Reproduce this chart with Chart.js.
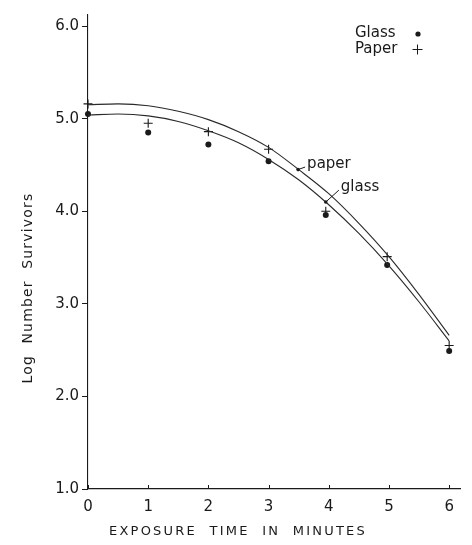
<!DOCTYPE html>
<html>
<head>
<meta charset="utf-8">
<script src="https://cdn.jsdelivr.net/npm/chart.js@4/dist/chart.umd.min.js"></script>
<style>
  html, body { margin: 0; padding: 0; background: #fff; }
  #wrap { width: 472px; height: 545px; }
</style>
</head>
<body>
<div id="wrap"><canvas id="c" width="472" height="545"></canvas></div>
<script>
// Observed survivors (log10) after UV exposure, by surface
const obsMinutes = [0, 1, 2, 3, 3.95, 4.97, 6];
const glassObs   = [5.05, 4.85, 4.72, 4.54, 3.96, 3.42, 2.49];
const paperObs   = [5.16, 4.95, 4.86, 4.67, 4.00, 3.51, 2.55];

// Fitted survival curves
const fitMinutes = [0, 0.5, 1, 1.5, 2, 2.5, 3, 3.5, 4, 4.5, 5, 5.5, 6];
const glassFit   = [5.04, 5.05, 5.03, 4.97, 4.87, 4.74, 4.56, 4.34, 4.07, 3.76, 3.41, 3.02, 2.60];
const paperFit   = [5.15, 5.16, 5.14, 5.08, 4.99, 4.86, 4.69, 4.45, 4.19, 3.87, 3.51, 3.10, 2.66];

const xTicks = [0, 1, 2, 3, 4, 5, 6];
const yTicks = [1, 2, 3, 4, 5, 6];

// Curve label anchors: [minutes, log survivors] where the pointer touches each curve
const curveLabels = [
  { text: 'paper', at: [3.49, 4.45], textAt: [3.64, 4.51] },
  { text: 'glass', at: [3.95, 4.10], textAt: [4.2, 4.26] }
];

const INK = '#1a1a1a';
const FONT = '"DejaVu Sans", "Liberation Sans", sans-serif';

const toXY = (xs, ys) => xs.map((x, i) => ({ x, y: ys[i] }));

const extras = {
  id: 'extras',
  afterDraw(chart) {
    const { ctx, scales: { x, y }, chartArea } = chart;
    ctx.save();
    ctx.strokeStyle = INK;
    ctx.fillStyle = INK;
    ctx.lineWidth = 1;

    // short inward ticks on the time axis
    xTicks.forEach(v => {
      const px = Math.round(x.getPixelForValue(v)) + 0.5;
      ctx.beginPath();
      ctx.moveTo(px, chartArea.bottom);
      ctx.lineTo(px, chartArea.bottom - 4);
      ctx.stroke();
    });

    // curve labels with leader lines
    ctx.font = '15px ' + FONT;
    ctx.textBaseline = 'middle';
    ctx.textAlign = 'left';
    curveLabels.forEach(l => {
      const ax = x.getPixelForValue(l.at[0]), ay = y.getPixelForValue(l.at[1]);
      const tx = x.getPixelForValue(l.textAt[0]), ty = y.getPixelForValue(l.textAt[1]);
      ctx.beginPath();
      ctx.moveTo(tx - 2, ty + 3);
      ctx.lineTo(ax, ay);
      ctx.stroke();
      ctx.beginPath();
      ctx.arc(ax, ay, 1.8, 0, Math.PI * 2);
      ctx.fill();
      ctx.fillText(l.text, tx, ty);
    });

    // key
    ctx.font = '15px ' + FONT;
    ctx.fillText('Glass', 355, 33);
    ctx.fillText('Paper', 355, 49);
    ctx.beginPath();
    ctx.arc(418, 34, 2.6, 0, Math.PI * 2);
    ctx.fill();
    ctx.beginPath();
    ctx.moveTo(412.5, 49.5); ctx.lineTo(422.5, 49.5);
    ctx.moveTo(417.5, 44.5); ctx.lineTo(417.5, 54.5);
    ctx.stroke();

    // axis titles
    ctx.textAlign = 'center';
    ctx.font = '13px ' + FONT;
    ctx.letterSpacing = '2.2px';
    ctx.fillText('EXPOSURE  TIME  IN  MINUTES', 238, 532);
    ctx.translate(28, 288);
    ctx.rotate(-Math.PI / 2);
    ctx.letterSpacing = '1.2px';
    ctx.font = '14px ' + FONT;
    ctx.fillText('Log  Number  Survivors', 0, 0);
    ctx.restore();
  }
};

new Chart(document.getElementById('c'), {
  type: 'scatter',
  data: {
    datasets: [
      {
        label: 'Glass fit', type: 'line', data: toXY(fitMinutes, glassFit),
        borderColor: '#2a2a2a', borderWidth: 1.1, pointRadius: 0,
        cubicInterpolationMode: 'monotone', fill: false
      },
      {
        label: 'Paper fit', type: 'line', data: toXY(fitMinutes, paperFit),
        borderColor: '#2a2a2a', borderWidth: 1.1, pointRadius: 0,
        cubicInterpolationMode: 'monotone', fill: false
      },
      {
        label: 'Glass', data: toXY(obsMinutes, glassObs),
        pointStyle: 'circle', pointRadius: 3, backgroundColor: INK,
        borderColor: INK, borderWidth: 0, clip: false
      },
      {
        label: 'Paper', data: toXY(obsMinutes, paperObs),
        pointStyle: 'cross', pointRadius: 4.5, borderColor: INK,
        borderWidth: 1.1, clip: false
      }
    ]
  },
  options: {
    responsive: false,
    animation: false,
    events: [],
    layout: { padding: { top: 15, right: 12, left: 0, bottom: 0 } },
    plugins: { legend: { display: false }, tooltip: { enabled: false } },
    scales: {
      x: {
        type: 'linear', min: 0, max: 6.18,
        afterBuildTicks: s => { s.ticks = xTicks.map(v => ({ value: v })); },
        afterFit: s => { s.height = 56; },
        grid: { display: true, drawOnChartArea: false, drawTicks: false },
        border: { display: true, color: INK, width: 1.3 },
        ticks: {
          color: INK, padding: 9,
          font: { family: FONT, size: 15 },
          callback: v => String(v)
        }
      },
      y: {
        type: 'linear', min: 1, max: 6.12,
        afterBuildTicks: s => { s.ticks = yTicks.map(v => ({ value: v })); },
        afterFit: s => { s.width = 88; },
        grid: { display: true, drawOnChartArea: false, drawTicks: true, tickLength: 6, color: INK },
        border: { display: true, color: INK, width: 1.1 },
        ticks: {
          color: INK, padding: 3,
          font: { family: FONT, size: 15 },
          callback: v => v.toFixed(1)
        }
      }
    }
  },
  plugins: [extras]
});
</script>
</body>
</html>
